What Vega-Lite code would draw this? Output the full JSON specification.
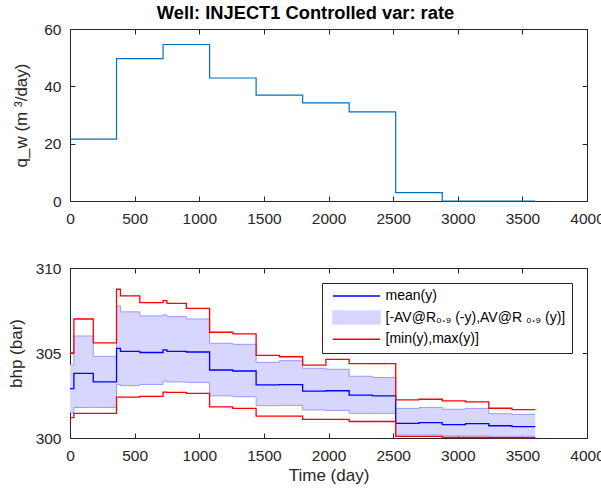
{
  "$schema": "https://vega.github.io/schema/vega-lite/v6.json",
  "padding": {"left": 6, "top": 4, "right": 0, "bottom": 0},
  "background": "white",
  "title": {"text": "Well: INJECT1 Controlled var: rate", "fontSize": 18.3, "fontWeight": "bold", "font": "Liberation Sans", "color": "#000000", "anchor": "middle", "offset": -2, "dx": -23, "frame": "group"},
  "resolve": {"scale": {"color": "independent"}, "legend": {"color": "independent"}},
  "datasets": {
    "rate": [
      {"t": 0, "q": 21.6}, {"t": 360, "q": 49.7}, {"t": 720, "q": 54.6}, {"t": 1080, "q": 42.9},
      {"t": 1440, "q": 36.9}, {"t": 1800, "q": 34.2}, {"t": 2160, "q": 31.1}, {"t": 2520, "q": 2.9},
      {"t": 2880, "q": 0}, {"t": 3240, "q": 0}, {"t": 3600, "q": 0}
    ],
    "bhp": [
      {"t": 0, "mx": 305.0, "hi": 304.3, "mean": 302.9, "lo": 301.5, "mn": 301.2},
      {"t": 30, "mx": 307.0, "hi": 306.0, "mean": 303.8, "lo": 301.8, "mn": 301.45},
      {"t": 180, "mx": 305.6, "hi": 304.8, "mean": 303.3, "lo": 301.8, "mn": 301.45},
      {"t": 360, "mx": 308.75, "hi": 307.77, "mean": 305.27, "lo": 303.15, "mn": 302.4},
      {"t": 390, "mx": 308.36, "hi": 307.42, "mean": 305.1, "lo": 303.08, "mn": 302.4},
      {"t": 540, "mx": 307.96, "hi": 307.18, "mean": 305.03, "lo": 303.15, "mn": 302.45},
      {"t": 720, "mx": 308.08, "hi": 307.25, "mean": 305.18, "lo": 303.35, "mn": 302.7},
      {"t": 750, "mx": 307.92, "hi": 307.14, "mean": 305.1, "lo": 303.3, "mn": 302.68},
      {"t": 900, "mx": 307.62, "hi": 307.0, "mean": 305.06, "lo": 303.27, "mn": 302.63},
      {"t": 1080, "mx": 306.22, "hi": 305.57, "mean": 304.0, "lo": 302.48, "mn": 301.83},
      {"t": 1260, "mx": 306.12, "hi": 305.51, "mean": 303.94, "lo": 302.43, "mn": 301.74},
      {"t": 1440, "mx": 304.86, "hi": 304.45, "mean": 303.12, "lo": 301.9, "mn": 301.29},
      {"t": 1620, "mx": 304.78, "hi": 304.55, "mean": 303.14, "lo": 301.92, "mn": 301.29},
      {"t": 1800, "mx": 304.29, "hi": 304.1, "mean": 302.76, "lo": 301.65, "mn": 301.1},
      {"t": 1980, "mx": 304.63, "hi": 304.04, "mean": 302.78, "lo": 301.62, "mn": 301.1},
      {"t": 2160, "mx": 304.37, "hi": 303.63, "mean": 302.52, "lo": 301.45, "mn": 300.97},
      {"t": 2340, "mx": 304.37, "hi": 303.56, "mean": 302.48, "lo": 301.45, "mn": 300.97},
      {"t": 2520, "mx": 302.24, "hi": 301.74, "mean": 300.86, "lo": 300.18, "mn": 300.1},
      {"t": 2700, "mx": 302.28, "hi": 301.79, "mean": 300.91, "lo": 300.18, "mn": 300.1},
      {"t": 2880, "mx": 302.18, "hi": 301.69, "mean": 300.79, "lo": 300.12, "mn": 300.03},
      {"t": 3060, "mx": 302.12, "hi": 301.74, "mean": 300.84, "lo": 300.12, "mn": 300.03},
      {"t": 3240, "mx": 301.75, "hi": 301.43, "mean": 300.72, "lo": 300.1, "mn": 300.02},
      {"t": 3420, "mx": 301.67, "hi": 301.39, "mean": 300.67, "lo": 300.1, "mn": 300.02},
      {"t": 3600, "mx": 301.67, "hi": 301.39, "mean": 300.67, "lo": 300.1, "mn": 300.02}
    ]
  },
  "config": {
    "font": "Liberation Sans",
    "view": {"stroke": "#262626", "strokeWidth": 1},
    "axis": {
      "domain": false, "grid": false,
      "tickColor": "#262626", "tickSize": -5, "tickWidth": 1,
      "labelColor": "#262626", "labelFontSize": 15.5, "labelFont": "Liberation Sans",
      "labelFlush": false, "labelOverlap": false, "labelBound": false,
      "titleFont": "Liberation Sans", "titleFontSize": 17, "titleFontWeight": "normal", "titleColor": "#262626"
    },
    "axisX": {"labelPadding": 15, "titlePadding": 4},
    "axisY": {"labelPadding": 14},
    "legend": {
      "title": null, "orient": "top-right", "offset": 15,
      "fillColor": "white", "strokeColor": "#262626", "padding": 6,
      "labelFontSize": 14, "labelFont": "Liberation Sans", "labelColor": "#000000", "labelLimit": 400,
      "symbolSize": 100, "symbolOffset": 21.5, "labelOffset": 22, "rowPadding": 4.6
    }
  },
  "vconcat": [
    {
      "width": 517, "height": 172,
      "data": {"name": "rate"},
      "layer": [
        {
          "mark": {"type": "line", "interpolate": "step-after", "color": "#0072BD", "strokeWidth": 1.2},
          "encoding": {
            "x": {"field": "t", "type": "quantitative", "scale": {"domain": [0, 4000], "nice": false},
                  "axis": {"values": [0, 500, 1000, 1500, 2000, 2500, 3000, 3500, 4000], "format": "d", "title": null}},
            "y": {"field": "q", "type": "quantitative", "scale": {"domain": [0, 60], "nice": false},
                  "axis": {"values": [0, 20, 40, 60], "format": "d", "title": "q_w (m ³/day)", "titlePadding": 13}}
          }
        },
        {
          "mark": {"type": "line", "strokeOpacity": 0},
          "encoding": {
            "x": {"field": "t", "type": "quantitative",
                  "axis": {"orient": "top", "values": [0, 500, 1000, 1500, 2000, 2500, 3000, 3500, 4000], "labels": false, "title": null}},
            "y": {"field": "q", "type": "quantitative",
                  "axis": {"orient": "right", "values": [0, 20, 40, 60], "labels": false, "title": null}}
          }
        }
      ],
      "resolve": {"axis": {"x": "independent", "y": "independent"}}
    },
    {
      "width": 517, "height": 170,
      "data": {"name": "bhp"},
      "layer": [
        {
          "mark": {"type": "area", "interpolate": "step-after", "opacity": 1},
          "encoding": {
            "x": {"field": "t", "type": "quantitative", "scale": {"domain": [0, 4000], "nice": false},
                  "axis": {"values": [0, 500, 1000, 1500, 2000, 2500, 3000, 3500, 4000], "format": "d", "title": "Time (day)"}},
            "y": {"field": "lo", "type": "quantitative", "scale": {"domain": [300, 310], "nice": false, "zero": false},
                  "axis": {"values": [300, 305, 310], "format": "d", "title": "bhp (bar)", "titlePadding": 10}},
            "y2": {"field": "hi"},
            "color": {"datum": "band", "type": "nominal",
                      "scale": {"domain": ["mean", "band", "mx", "mn"], "range": ["#0000FF", "#D6D6FF", "#FF0000", "#FF0000"]},
                      "legend": {
                        "values": ["mean", "band", "mx"], "title": null,
                        "labelExpr": "datum.value === 'mean' ? 'mean(y)' : datum.value === 'band' ? '[-AV@R₀.₉ (-y),AV@R ₀.₉ (y)]' : '[min(y),max(y)]'",
                        "encode": {
                          "symbols": {"update": {
                            "shape": {"signal": "datum.value === 'band' ? 'M-4.7,-1.3H4.7V1.3H-4.7Z' : 'M-4.7,0H4.7'"},
                            "fill": {"signal": "datum.value === 'band' ? '#D6D6FF' : 'transparent'"},
                            "stroke": {"signal": "datum.value === 'band' ? 'transparent' : (datum.value === 'mean' ? '#0000FF' : '#FF0000')"},
                            "strokeWidth": {"value": 1.5},
                            "opacity": {"value": 1}
                          }}
                        }
                      }}
          }
        },
        {
          "transform": [{"fold": ["hi", "lo"], "as": ["edge", "val"]}],
          "mark": {"type": "line", "interpolate": "step-after", "color": "#9A9AFF", "strokeWidth": 1},
          "encoding": {
            "x": {"field": "t", "type": "quantitative", "axis": null},
            "y": {"field": "val", "type": "quantitative", "axis": null},
            "detail": {"field": "edge"}
          }
        },
        {
          "transform": [{"fold": ["mean", "mx", "mn"], "as": ["key", "val"]}],
          "mark": {"type": "line", "interpolate": "step-after", "strokeWidth": 1.3},
          "encoding": {
            "x": {"field": "t", "type": "quantitative", "axis": null},
            "y": {"field": "val", "type": "quantitative", "axis": null},
            "color": {"field": "key", "type": "nominal",
                      "legend": {
                        "values": ["mean", "band", "mx"], "title": null,
                        "labelExpr": "datum.value === 'mean' ? 'mean(y)' : datum.value === 'band' ? '[-AV@R₀.₉ (-y),AV@R ₀.₉ (y)]' : '[min(y),max(y)]'",
                        "encode": {
                          "symbols": {"update": {
                            "shape": {"signal": "datum.value === 'band' ? 'M-4.7,-1.3H4.7V1.3H-4.7Z' : 'M-4.7,0H4.7'"},
                            "fill": {"signal": "datum.value === 'band' ? '#D6D6FF' : 'transparent'"},
                            "stroke": {"signal": "datum.value === 'band' ? 'transparent' : (datum.value === 'mean' ? '#0000FF' : '#FF0000')"},
                            "strokeWidth": {"value": 1.5},
                            "opacity": {"value": 1}
                          }}
                        }
                      }},
            "detail": {"field": "key"}
          }
        },
        {
          "mark": {"type": "line", "strokeOpacity": 0},
          "encoding": {
            "x": {"field": "t", "type": "quantitative",
                  "axis": {"orient": "top", "values": [0, 500, 1000, 1500, 2000, 2500, 3000, 3500, 4000], "labels": false, "title": null}},
            "y": {"field": "mean", "type": "quantitative",
                  "axis": {"orient": "right", "values": [300, 305, 310], "labels": false, "title": null}}
          }
        }
      ],
      "resolve": {"axis": {"x": "independent", "y": "independent"}}
    }
  ],
  "spacing": 67,
  "bounds": "flush"
}
